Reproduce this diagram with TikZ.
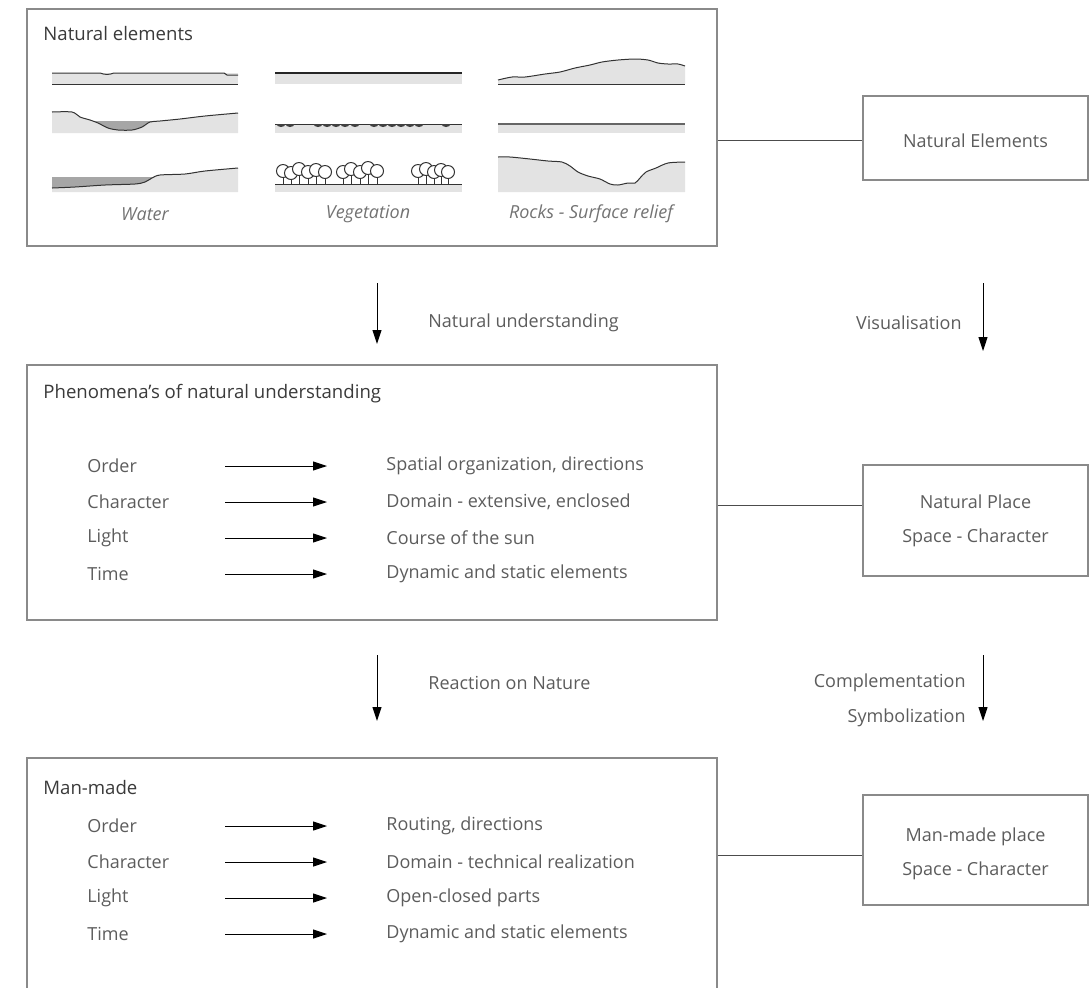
\documentclass[tikz,border=0pt]{standalone}
\usepackage{fontspec}
\setmainfont{Open Sans}
\usetikzlibrary{arrows.meta, positioning}

\definecolor{txtgray}{HTML}{5C5C5C}
\definecolor{headgray}{HTML}{3A3A3A}
\definecolor{framegray}{HTML}{8A8A8A}
\definecolor{groundgray}{HTML}{E3E3E3}
\definecolor{watergray}{HTML}{A6A6A6}

\tikzset{
  frame/.style={draw=framegray, line width=0.6pt, inner sep=0pt},
  label/.style={text=txtgray, font=\fontsize{9}{11}\selectfont, inner sep=0pt},
  heading/.style={text=headgray, font=\fontsize{9.3}{11}\selectfont, inner sep=0pt},
  caption/.style={label, font=\fontsize{9}{11}\selectfont\itshape, text=black!55},
  link/.style={draw=black!70, line width=0.5pt},
  flow/.style={draw=black, line width=0.5pt, -{Triangle[length=7pt,width=4.5pt]}},
  ground/.style={fill=groundgray},
  profile/.style={draw=black!80, line width=0.5pt},
  water/.style={fill=watergray},
}

\begin{document}
\begin{tikzpicture}[x=0.5pt, y=-0.5pt]
\useasboundingbox (0,0) rectangle (1090,987);
\clip (0,0) rectangle (1090,987);

% left column boxes
\node[frame, minimum width=345pt, minimum height=118.5pt] (natbox) at (372,127.5) {};
\node[frame, minimum width=345pt, minimum height=127.5pt] (phenbox) at (372,492.5) {};
\node[frame, minimum width=345pt, minimum height=125pt] (manbox) at (372,883) {};

% right column boxes
\node[frame, minimum width=112.5pt, minimum height=42pt] (natelem) at (975.5,138) {};
\node[frame, minimum width=112.5pt, minimum height=55.5pt] (natplace) at (975.5,520.5) {};
\node[frame, minimum width=112.5pt, minimum height=55pt] (manplace) at (975.5,850) {};

\node[label] (ne1) at (975.5,141) {Natural Elements};
\node[label] (np1) at (975.5,502) {Natural Place};
\node[label] (np2) at (975.5,538) {Space - Character};
\node[label] (mp1) at (975.5,837) {Man-made place};
\node[label] (mp2) at (975.5,871) {Space - Character};

\draw[link] (natbox.east |- 0,140) -- (natelem.west |- 0,140);
\draw[link] (phenbox.east |- 0,505) -- (natplace.west |- 0,505);
\draw[link] (manbox.east |- 0,855) -- (manplace.west |- 0,855);

% titles
\node[heading, anchor=west] (t1) at (43,34) {Natural elements};
\node[heading, anchor=west] (t2) at (43,394) {Phenomena’s of natural understanding};
\node[heading, anchor=west] (t3) at (43,788) {Man-made};

% water
\fill[ground] (52,73) rectangle (238,84);
\draw[profile] (52,73) -- (100,73) to[out=-20,in=200] (114,73) -- (224,73) -- (227,75) -- (238,75);
\draw[profile] (52,84) -- (238,84);

\fill[ground] plot[smooth] coordinates {(52,112) (72,112) (80,117) (90,120) (98,123) (108,128) (118,130) (132,130) (142,127) (150,122) (160,121) (180,119) (205,116) (238,113)} -- (238,133) -- (52,133) -- cycle;
\fill[water] plot[smooth] coordinates {(92,121) (98,123) (108,128) (118,130) (132,130) (142,127) (150,122) (157,121)} -- cycle;
\draw[profile] plot[smooth] coordinates {(52,112) (72,112) (80,117) (90,120) (98,123) (108,128) (118,130) (132,130) (142,127) (150,122) (160,121) (180,119) (205,116) (238,113)};

\fill[ground] plot[smooth] coordinates {(52,188) (75,187) (105,185) (135,184) (145,182) (152,178) (160,175) (185,174) (205,171) (238,168)} -- (238,192) -- (52,192) -- cycle;
\fill[water] (52,177) -- plot[smooth] coordinates {(155,177) (152,178) (145,182) (135,184) (105,185) (75,187) (52,188)} -- cycle;
\draw[profile] plot[smooth] coordinates {(52,188) (75,187) (105,185) (135,184) (145,182) (152,178) (160,175) (185,174) (205,171) (238,168)};

% vegetation
\fill[ground] (275,73) rectangle (462,84);
\draw[black!85, line width=1.2pt] (275,73) -- (462,73);

\fill[ground] (275,124) rectangle (462,133);
\draw[profile] (275,124) -- (462,124);
\foreach \x in {281,290,318,327,336,345,355,374,383,392,401,410,419,446}
  \fill[black!75] (\x-4.5,124) arc[start angle=180, end angle=0, x radius=4.5, y radius=3];

\fill[ground] (275,184) rectangle (462,192);
\foreach \x/\h in {283/171,291/173,299/169,308/172,316/170,325/172,
                   343/172,351/169,360/172,368/168,377/171,
                   418/171,426/169,434/172,441/170,448/172}
{
  \draw[profile] (\x,184) -- (\x,\h+4);
  \draw[profile, fill=white] (\x,\h) circle[radius=6.5];
}
\draw[profile] (275,184) -- (462,184);

% rocks - surface relief
\fill[ground] plot[smooth] coordinates {(498,80) (512,77) (525,77) (545,74) (560,72) (575,68) (590,65) (602,62) (618,60) (635,59) (648,60) (658,63) (668,64) (678,64) (685,66)} -- (685,84) -- (498,84) -- cycle;
\draw[profile] plot[smooth] coordinates {(498,80) (512,77) (525,77) (545,74) (560,72) (575,68) (590,65) (602,62) (618,60) (635,59) (648,60) (658,63) (668,64) (678,64) (685,66)};
\draw[profile] (498,84) -- (685,84);

\fill[ground] (498,124) rectangle (685,133);
\draw[profile, black!60, line width=0.8pt] (498,124) -- (685,124);

\fill[ground] plot[smooth] coordinates {(498,157) (510,157) (530,159) (548,161) (562,162) (570,166) (578,172) (588,176) (600,179) (610,184) (618,185) (628,183) (635,183) (640,178) (646,172) (656,168) (668,163) (685,162)} -- (685,192) -- (498,192) -- cycle;
\draw[profile] plot[smooth] coordinates {(498,157) (510,157) (530,159) (548,161) (562,162) (570,166) (578,172) (588,176) (600,179) (610,184) (618,185) (628,183) (635,183) (640,178) (646,172) (656,168) (668,163) (685,162)};

\node[caption] (cwater) at (145,214) {Water};
\node[caption] (cveg) at (368,214) {Vegetation};
\node[caption] (crock) at (591,214) {Rocks - Surface relief};

% flows between the levels
\coordinate (a1s) at (377,283);
\coordinate (a1e) at (377,344);
\coordinate (a2s) at (377,655);
\coordinate (a2e) at (377,721);
\coordinate (b1s) at (983,283);
\coordinate (b1e) at (983,351);
\coordinate (b2s) at (983,655);
\coordinate (b2e) at (983,721);
\draw[flow] (a1s) -- (a1e);
\draw[flow] (a2s) -- (a2e);
\draw[flow] (b1s) -- (b1e);
\draw[flow] (b2s) -- (b2e);

\node[label, anchor=west] (l1) at (428,323) {Natural understanding};
\node[label, anchor=west] (l2) at (428,683) {Reaction on Nature};
\node[label, anchor=east] (r1) at (962,323) {Visualisation};
\node[label, anchor=east] (r2) at (966,683) {Complementation};
\node[label, anchor=east] (r3) at (966,718) {Symbolization};

% phenomena rows
\foreach \name/\what/\y [count=\i] in {Order/{Spatial organization, directions}/466,
    Character/{Domain - extensive, enclosed}/502,
    Light/{Course of the sun}/538,
    Time/{Dynamic and static elements}/574}
{
  \node[label, anchor=west] (pk\i) at (87,\y) {\name};
  \coordinate (pa\i) at (225,\y);
  \coordinate (pb\i) at (327,\y);
  \draw[flow] (pa\i) -- (pb\i);
  \node[label, anchor=west] (pv\i) at (386,\y) {\what};
}

% man-made rows
\foreach \name/\what/\y [count=\i] in {Order/{Routing, directions}/826,
    Character/{Domain - technical realization}/862,
    Light/{Open-closed parts}/898,
    Time/{Dynamic and static elements}/934}
{
  \node[label, anchor=west] (mk\i) at (87,\y) {\name};
  \coordinate (ma\i) at (225,\y);
  \coordinate (mb\i) at (327,\y);
  \draw[flow] (ma\i) -- (mb\i);
  \node[label, anchor=west] (mv\i) at (386,\y) {\what};
}
\end{tikzpicture}
\end{document}
